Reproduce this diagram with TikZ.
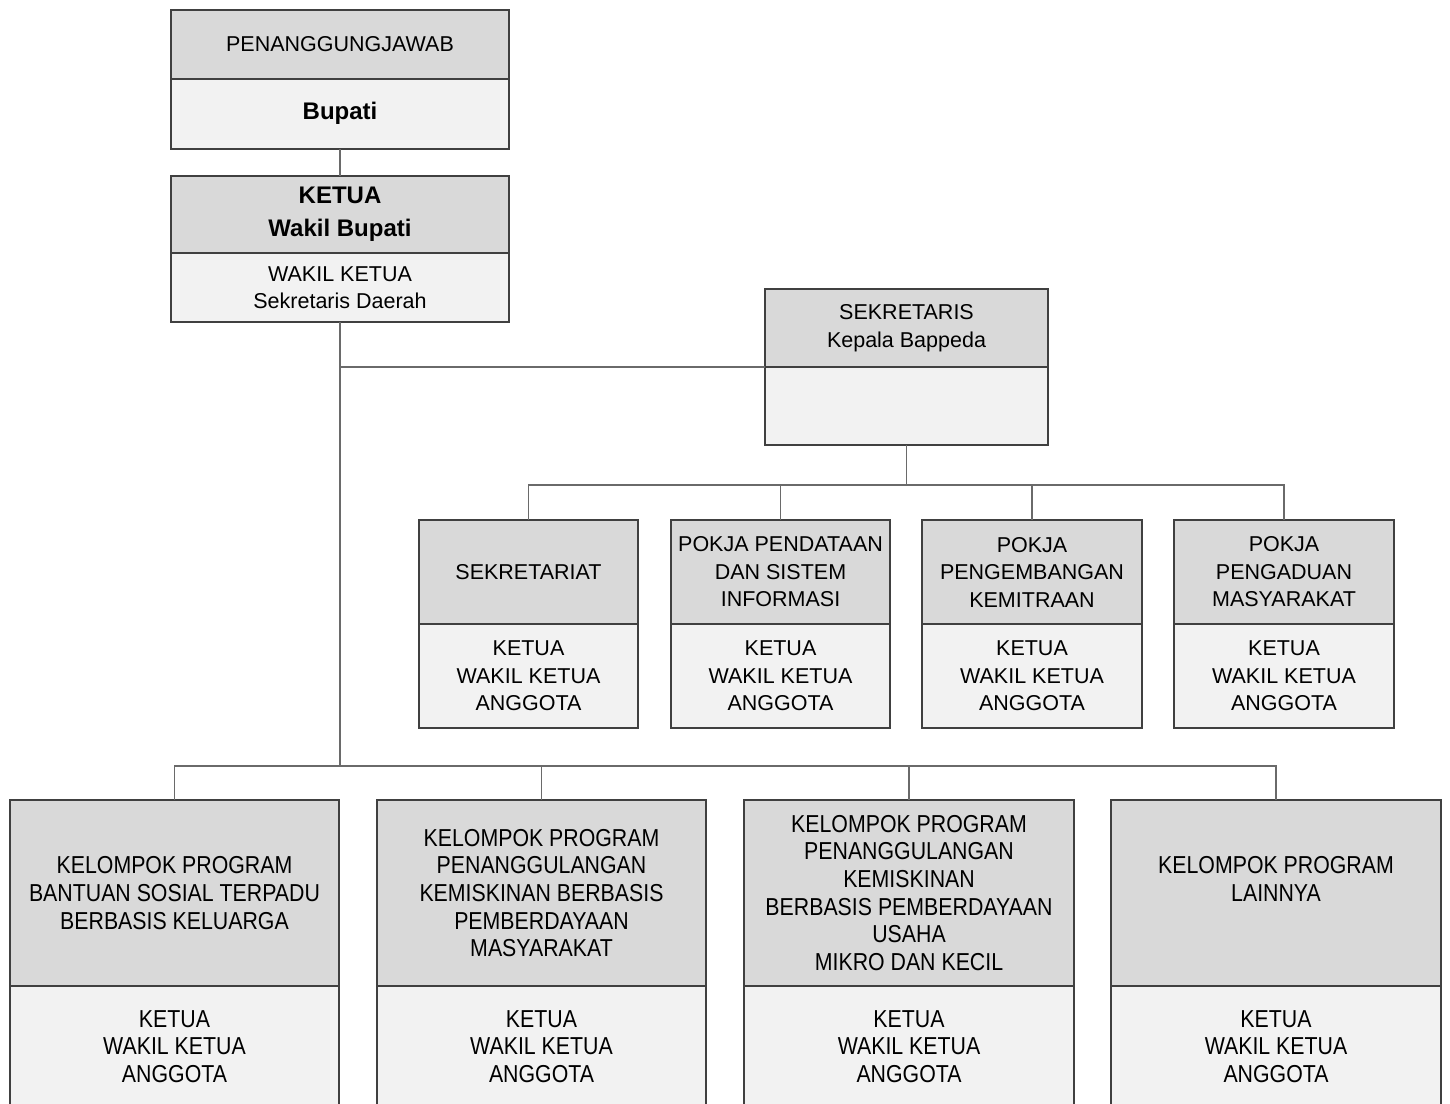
\documentclass[tikz,border=0pt]{standalone}
\usepackage{fontspec}
\setmainfont{Liberation Sans}
\newfontfamily\condfont[FakeStretch=0.87]{Liberation Sans}
\definecolor{hdrfill}{HTML}{D9D9D9}
\definecolor{lowfill}{HTML}{F2F2F2}
\definecolor{boxline}{HTML}{404040}
\definecolor{conline}{HTML}{6A6A6A}
\tikzset{
  x=1pt, y=-1pt,
  part/.style={draw=boxline, line width=1.5pt, rectangle, inner sep=0pt, outer sep=0pt,
    align=center, font=\fontsize{21.5}{27.5}\selectfont},
  hdr/.style={part, fill=hdrfill},
  low/.style={part, fill=lowfill},
  boldtxt/.style={font=\bfseries\fontsize{24}{33}\selectfont},
  condtxt/.style={font=\condfont\fontsize{24.5}{27.7}\selectfont},
  con/.style={draw=conline, line width=1.5pt},
}
\begin{document}
\begin{tikzpicture}
\useasboundingbox (0,0) rectangle (1450,1103);
\fill[white] (0,0) rectangle (1450,1103);

% top boxes
\node[hdr, minimum width=338, minimum height=69] (pjH) at (340,44.5) {PENANGGUNGJAWAB};
\node[low, boldtxt, minimum width=338, minimum height=70] (pjL) at (340,114) {Bupati\\[-27pt]\mbox{}};
\node[hdr, boldtxt, minimum width=338, minimum height=77] (ktH) at (340,214.5) {KETUA\\Wakil Bupati};
\node[low, minimum width=338, minimum height=69] (ktL) at (340,287.5) {WAKIL KETUA\\Sekretaris Daerah};

% sekretaris
\node[hdr, minimum width=283, minimum height=78] (skH) at (906.5,328) {SEKRETARIS\\Kepala Bappeda};
\node[low, minimum width=283, minimum height=78] (skL) at (906.5,406) {};

% pokja
\node[hdr, minimum width=219, minimum height=104] (p1H) at (528.5,572) {SEKRETARIAT};
\node[low, minimum width=219, minimum height=104] (p1L) at (528.5,676) {KETUA\\WAKIL KETUA\\ANGGOTA};
\node[hdr, minimum width=219, minimum height=104] (p2H) at (780.5,572) {POKJA PENDATAAN\\DAN SISTEM\\INFORMASI};
\node[low, minimum width=219, minimum height=104] (p2L) at (780.5,676) {KETUA\\WAKIL KETUA\\ANGGOTA};
\node[hdr, minimum width=220, minimum height=104] (p3H) at (1032,572) {POKJA\\PENGEMBANGAN\\KEMITRAAN};
\node[low, minimum width=220, minimum height=104] (p3L) at (1032,676) {KETUA\\WAKIL KETUA\\ANGGOTA};
\node[hdr, minimum width=220, minimum height=104] (p4H) at (1284,572) {POKJA\\PENGADUAN\\MASYARAKAT};
\node[low, minimum width=220, minimum height=104] (p4L) at (1284,676) {KETUA\\WAKIL KETUA\\ANGGOTA};

% kelompok program
\node[hdr, condtxt, minimum width=329, minimum height=186] (b1H) at (174.5,893) {KELOMPOK PROGRAM\\BANTUAN SOSIAL TERPADU\\BERBASIS KELUARGA};
\node[low, condtxt, minimum width=329, minimum height=121] (b1L) at (174.5,1046.5) {KETUA\\WAKIL KETUA\\ANGGOTA};
\node[hdr, condtxt, minimum width=329, minimum height=186] (b2H) at (541.5,893) {KELOMPOK PROGRAM\\PENANGGULANGAN\\KEMISKINAN BERBASIS\\PEMBERDAYAAN\\MASYARAKAT};
\node[low, condtxt, minimum width=329, minimum height=121] (b2L) at (541.5,1046.5) {KETUA\\WAKIL KETUA\\ANGGOTA};
\node[hdr, condtxt, minimum width=330, minimum height=186] (b3H) at (909,893) {KELOMPOK PROGRAM\\PENANGGULANGAN\\KEMISKINAN\\BERBASIS PEMBERDAYAAN\\USAHA\\MIKRO DAN KECIL};
\node[low, condtxt, minimum width=330, minimum height=121] (b3L) at (909,1046.5) {KETUA\\WAKIL KETUA\\ANGGOTA};
\node[hdr, condtxt, minimum width=330, minimum height=186] (b4H) at (1276,893) {KELOMPOK PROGRAM\\LAINNYA\\\mbox{}};
\node[low, condtxt, minimum width=330, minimum height=121] (b4L) at (1276,1046.5) {KETUA\\WAKIL KETUA\\ANGGOTA};

% connectors
\coordinate (j1) at (340,367);
\coordinate (bus1) at (906.5,485);
\coordinate (bus2) at (340,766);
\draw[con] (pjL.south) -- (ktH.north);
\draw[con] (ktL.south) -- (bus2);
\draw[con] (j1) -- (skH.south west);
\draw[con] (skL.south) -- (bus1);
\draw[con] (p1H.north) |- (bus1) -| (p4H.north);
\draw[con] (p2H.north) -- (p2H.north |- bus1);
\draw[con] (p3H.north) -- (p3H.north |- bus1);
\draw[con] (b1H.north) |- (bus2) -| (b4H.north);
\draw[con] (b2H.north) -- (b2H.north |- bus2);
\draw[con] (b3H.north) -- (b3H.north |- bus2);
\end{tikzpicture}
\end{document}
